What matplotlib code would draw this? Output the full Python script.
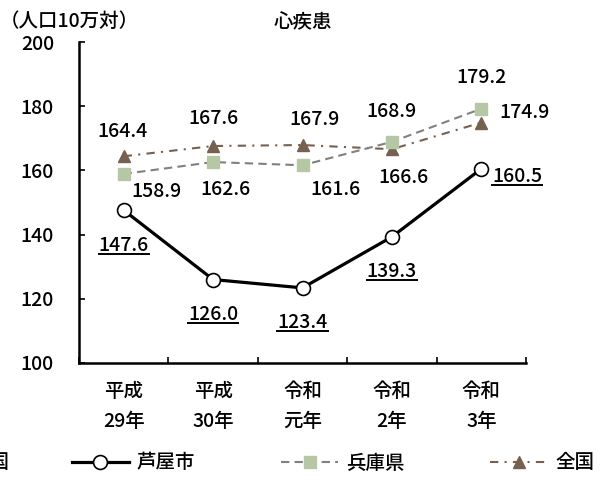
import matplotlib
matplotlib.use("Agg")
import matplotlib.pyplot as plt
from matplotlib.lines import Line2D

plt.rcParams["font.family"] = ["Noto Sans CJK JP", "DejaVu Sans"]
plt.rcParams["font.weight"] = "medium"

# 心疾患 死亡率（人口10万対）
years = ["平成\n29年", "平成\n30年", "令和\n元年", "令和\n2年", "令和\n3年"]
ashiya = [147.6, 126.0, 123.4, 139.3, 160.5]
hyogo = [158.9, 162.6, 161.6, 168.9, 179.2]
zenkoku = [164.4, 167.6, 167.9, 166.6, 174.9]

# label offsets in pixels (dx, dy) from each point
ashiya_off = [(0, -35), (0, -35), (0, -35), (0, -35), (36, -8)]
hyogo_off = [(33, -18), (12, -27), (33, -24), (0, 30), (0, 31)]
zenkoku_off = [(-1, 25), (0, 28), (12, 26), (12, -28), (43, 10)]

brown = "#76604f"
sage = "#b5c7a5"
fs = 14

fig = plt.figure(figsize=(6.1, 4.8), dpi=100)
ax = fig.add_axes([79 / 610, 1 - 363 / 480, 447 / 610, 321 / 480])

x = list(range(len(years)))
ax.plot(x, zenkoku, color=brown, lw=1.5, dashes=(4, 3, 1, 3),
        marker="^", ms=8, mfc=brown, mec=brown, label="全国", zorder=3)
ax.plot(x, hyogo, color="#808080", lw=1.5, dashes=(4, 2.5),
        marker="s", ms=9, mfc=sage, mec=sage, label="兵庫県", zorder=3)
ax.plot(x, ashiya, color="black", lw=2.3,
        marker="o", ms=10, mfc="white", mec="black", mew=1.2, label="芦屋市", zorder=4)

ax.set_xlim(-0.5, 4.5)
ax.set_ylim(100, 200)
ax.set_yticks(range(100, 201, 20))
ax.set_xticks(x)
ax.set_xticklabels(years, linespacing=1.7)
ax.set_xticks([i - 0.5 for i in range(len(years) + 1)], minor=True)
ax.tick_params(axis="x", which="major", length=0, pad=14, labelsize=fs)
ax.tick_params(axis="x", which="minor", direction="in", length=4.3, width=1.2)
ax.tick_params(axis="y", direction="in", length=4.3, width=1.2, pad=18, labelsize=fs)
for side in ["top", "right"]:
    ax.spines[side].set_visible(False)
for side in ["left", "bottom"]:
    ax.spines[side].set_linewidth(1.8)

underlined = []
for i, v in enumerate(ashiya):
    t = ax.annotate(f"{v:.1f}", (i, v), xytext=ashiya_off[i], textcoords="offset pixels",
                    ha="center", va="center", fontsize=fs)
    underlined.append(t)
for i, v in enumerate(hyogo):
    ax.annotate(f"{v:.1f}", (i, v), xytext=hyogo_off[i], textcoords="offset pixels",
                ha="center", va="center", fontsize=fs)
for i, v in enumerate(zenkoku):
    ax.annotate(f"{v:.1f}", (i, v), xytext=zenkoku_off[i], textcoords="offset pixels",
                ha="center", va="center", fontsize=fs)

fig.text(0.0, 1 - 21 / 480, "（人口10万対）", ha="left", va="center", fontsize=fs)
fig.text(303 / 610, 1 - 23 / 480, "心疾患", ha="center", va="center", fontsize=fs)

handles, labels = ax.get_legend_handles_labels()
order = [2, 1, 0]
fig.legend([handles[k] for k in order], [labels[k] for k in order],
           loc="center", bbox_to_anchor=(333 / 610, 1 - 463 / 480), ncol=3,
           frameon=False, fontsize=fs, handlelength=2.95, handletextpad=0.4,
           columnspacing=4.4)
# tail of the previous legend row, clipped at the left edge
fig.text(9 / 610, 1 - 463 / 480, "全国", ha="right", va="center", fontsize=fs)

# underline the 芦屋市 values
fig.canvas.draw()
for t in underlined:
    bb = t.get_window_extent()
    y = bb.y0 + 1
    fig.add_artist(Line2D([bb.x0 / 610, bb.x1 / 610], [y / 480, y / 480],
                          transform=fig.transFigure, color="black", lw=1.4))

fig.savefig("out.png", dpi=100)
